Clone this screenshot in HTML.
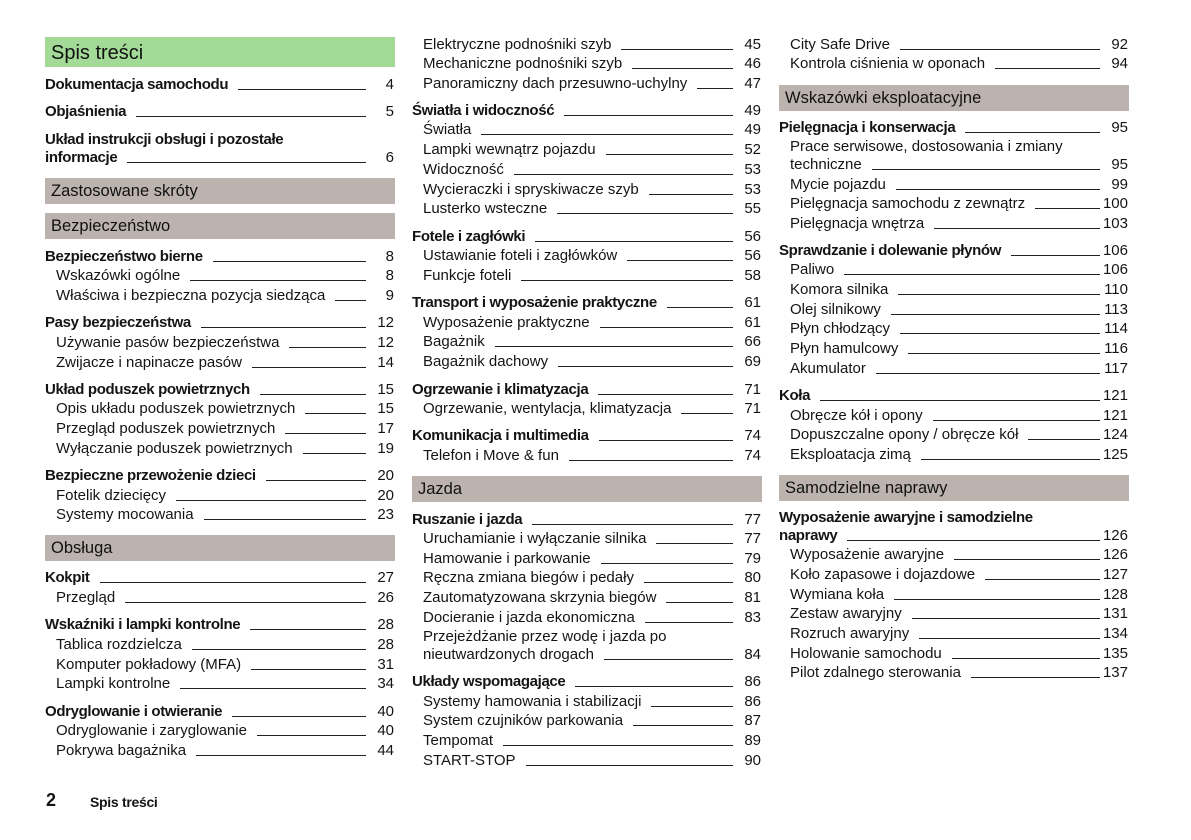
<!DOCTYPE html>
<html lang="pl">
<head>
<meta charset="utf-8">
<style>
html,body{margin:0;padding:0;background:#fff;}
body{width:1191px;height:840px;position:relative;overflow:hidden;font-family:"Liberation Sans",Arial,sans-serif;color:#141414;}
.col{position:absolute;top:0;width:350px;height:840px;}
.c1{left:45px;}
.c2{left:412px;}
.c3{left:779px;}
.r{position:absolute;left:0;right:1px;height:18px;display:flex;align-items:flex-start;line-height:18px;font-size:15px;white-space:nowrap;}
.r.s{left:11px;}
.r i{flex:1;height:13.5px;border-bottom:1px solid #222;margin-left:10px;min-width:4px;}
.r .n{width:28px;text-align:right;flex:none;font-weight:normal;letter-spacing:0;}
.b .t{font-weight:bold;letter-spacing:-0.35px;}
.w{position:absolute;left:0;height:18px;line-height:18px;font-size:15px;white-space:nowrap;}
.w.s{left:11px;}
.w.b{font-weight:bold;letter-spacing:-0.35px;}
.bar{position:absolute;left:0;width:344px;height:26px;line-height:27px;padding-left:6px;background:#bdb3ae;font-size:16.5px;color:#111;white-space:nowrap;}
.green{position:absolute;left:0;width:344px;height:30px;line-height:32px;padding-left:6px;background:#a3da97;font-size:20px;color:#111;}
.foot2{position:absolute;left:46px;top:790px;font-size:18px;font-weight:bold;line-height:20px;}
.foott{position:absolute;left:90px;top:793px;font-size:14px;font-weight:bold;letter-spacing:-0.3px;line-height:18px;}
</style>
</head>
<body>

<div class="col c1">
  <div class="green" style="top:37px">Spis treści</div>
  <div class="r b" style="top:75.5px"><span class="t">Dokumentacja samochodu</span><i></i><span class="n">4</span></div>
  <div class="r b" style="top:102.5px"><span class="t">Objaśnienia</span><i></i><span class="n">5</span></div>
  <div class="w b" style="top:130.5px">Układ instrukcji obsługi i pozostałe</div>
  <div class="r b" style="top:148.5px"><span class="t">informacje</span><i></i><span class="n">6</span></div>
  <div class="bar" style="top:178px">Zastosowane skróty</div>
  <div class="bar" style="top:213px">Bezpieczeństwo</div>

  <div class="r b" style="top:247.5px"><span class="t">Bezpieczeństwo bierne</span><i></i><span class="n">8</span></div>
  <div class="r s" style="top:266.5px"><span class="t">Wskazówki ogólne</span><i></i><span class="n">8</span></div>
  <div class="r s" style="top:286.5px"><span class="t">Właściwa i bezpieczna pozycja siedząca</span><i></i><span class="n">9</span></div>

  <div class="r b" style="top:313.5px"><span class="t">Pasy bezpieczeństwa</span><i></i><span class="n">12</span></div>
  <div class="r s" style="top:333.5px"><span class="t">Używanie pasów bezpieczeństwa</span><i></i><span class="n">12</span></div>
  <div class="r s" style="top:353.5px"><span class="t">Zwijacze i napinacze pasów</span><i></i><span class="n">14</span></div>

  <div class="r b" style="top:380.5px"><span class="t">Układ poduszek powietrznych</span><i></i><span class="n">15</span></div>
  <div class="r s" style="top:399.5px"><span class="t">Opis układu poduszek powietrznych</span><i></i><span class="n">15</span></div>
  <div class="r s" style="top:419.5px"><span class="t">Przegląd poduszek powietrznych</span><i></i><span class="n">17</span></div>
  <div class="r s" style="top:439.5px"><span class="t">Wyłączanie poduszek powietrznych</span><i></i><span class="n">19</span></div>

  <div class="r b" style="top:466.5px"><span class="t">Bezpieczne przewożenie dzieci</span><i></i><span class="n">20</span></div>
  <div class="r s" style="top:486.5px"><span class="t">Fotelik dziecięcy</span><i></i><span class="n">20</span></div>
  <div class="r s" style="top:505.5px"><span class="t">Systemy mocowania</span><i></i><span class="n">23</span></div>

  <div class="bar" style="top:535px">Obsługa</div>

  <div class="r b" style="top:568.5px"><span class="t">Kokpit</span><i></i><span class="n">27</span></div>
  <div class="r s" style="top:588.5px"><span class="t">Przegląd</span><i></i><span class="n">26</span></div>

  <div class="r b" style="top:615.5px"><span class="t">Wskaźniki i lampki kontrolne</span><i></i><span class="n">28</span></div>
  <div class="r s" style="top:635.5px"><span class="t">Tablica rozdzielcza</span><i></i><span class="n">28</span></div>
  <div class="r s" style="top:655.5px"><span class="t">Komputer pokładowy (MFA)</span><i></i><span class="n">31</span></div>
  <div class="r s" style="top:674.5px"><span class="t">Lampki kontrolne</span><i></i><span class="n">34</span></div>

  <div class="r b" style="top:702.5px"><span class="t">Odryglowanie i otwieranie</span><i></i><span class="n">40</span></div>
  <div class="r s" style="top:721.5px"><span class="t">Odryglowanie i zaryglowanie</span><i></i><span class="n">40</span></div>
  <div class="r s" style="top:741.5px"><span class="t">Pokrywa bagażnika</span><i></i><span class="n">44</span></div>
</div>

<div class="col c2">
  <div class="r s" style="top:35.5px"><span class="t">Elektryczne podnośniki szyb</span><i></i><span class="n">45</span></div>
  <div class="r s" style="top:54.5px"><span class="t">Mechaniczne podnośniki szyb</span><i></i><span class="n">46</span></div>
  <div class="r s" style="top:74.5px"><span class="t">Panoramiczny dach przesuwno-uchylny</span><i></i><span class="n">47</span></div>

  <div class="r b" style="top:101.5px"><span class="t">Światła i widoczność</span><i></i><span class="n">49</span></div>
  <div class="r s" style="top:120.5px"><span class="t">Światła</span><i></i><span class="n">49</span></div>
  <div class="r s" style="top:140.5px"><span class="t">Lampki wewnątrz pojazdu</span><i></i><span class="n">52</span></div>
  <div class="r s" style="top:160.5px"><span class="t">Widoczność</span><i></i><span class="n">53</span></div>
  <div class="r s" style="top:180.5px"><span class="t">Wycieraczki i spryskiwacze szyb</span><i></i><span class="n">53</span></div>
  <div class="r s" style="top:199.5px"><span class="t">Lusterko wsteczne</span><i></i><span class="n">55</span></div>

  <div class="r b" style="top:227.5px"><span class="t">Fotele i zagłówki</span><i></i><span class="n">56</span></div>
  <div class="r s" style="top:246.5px"><span class="t">Ustawianie foteli i zagłówków</span><i></i><span class="n">56</span></div>
  <div class="r s" style="top:266.5px"><span class="t">Funkcje foteli</span><i></i><span class="n">58</span></div>

  <div class="r b" style="top:293.5px"><span class="t">Transport i wyposażenie praktyczne</span><i></i><span class="n">61</span></div>
  <div class="r s" style="top:313.5px"><span class="t">Wyposażenie praktyczne</span><i></i><span class="n">61</span></div>
  <div class="r s" style="top:332.5px"><span class="t">Bagażnik</span><i></i><span class="n">66</span></div>
  <div class="r s" style="top:352.5px"><span class="t">Bagażnik dachowy</span><i></i><span class="n">69</span></div>

  <div class="r b" style="top:380.5px"><span class="t">Ogrzewanie i klimatyzacja</span><i></i><span class="n">71</span></div>
  <div class="r s" style="top:399.5px"><span class="t">Ogrzewanie, wentylacja, klimatyzacja</span><i></i><span class="n">71</span></div>

  <div class="r b" style="top:426.5px"><span class="t">Komunikacja i multimedia</span><i></i><span class="n">74</span></div>
  <div class="r s" style="top:446.5px"><span class="t">Telefon i Move &amp; fun</span><i></i><span class="n">74</span></div>

  <div class="bar" style="top:476px">Jazda</div>

  <div class="r b" style="top:510.5px"><span class="t">Ruszanie i jazda</span><i></i><span class="n">77</span></div>
  <div class="r s" style="top:529.5px"><span class="t">Uruchamianie i wyłączanie silnika</span><i></i><span class="n">77</span></div>
  <div class="r s" style="top:549.5px"><span class="t">Hamowanie i parkowanie</span><i></i><span class="n">79</span></div>
  <div class="r s" style="top:568.5px"><span class="t">Ręczna zmiana biegów i pedały</span><i></i><span class="n">80</span></div>
  <div class="r s" style="top:588.5px"><span class="t">Zautomatyzowana skrzynia biegów</span><i></i><span class="n">81</span></div>
  <div class="r s" style="top:608.5px"><span class="t">Docieranie i jazda ekonomiczna</span><i></i><span class="n">83</span></div>
  <div class="w s" style="top:627.5px">Przejeżdżanie przez wodę i jazda po</div>
  <div class="r s" style="top:645.5px"><span class="t">nieutwardzonych drogach</span><i></i><span class="n">84</span></div>

  <div class="r b" style="top:672.5px"><span class="t">Układy wspomagające</span><i></i><span class="n">86</span></div>
  <div class="r s" style="top:692.5px"><span class="t">Systemy hamowania i stabilizacji</span><i></i><span class="n">86</span></div>
  <div class="r s" style="top:711.5px"><span class="t">System czujników parkowania</span><i></i><span class="n">87</span></div>
  <div class="r s" style="top:731.5px"><span class="t">Tempomat</span><i></i><span class="n">89</span></div>
  <div class="r s" style="top:751.5px"><span class="t">START-STOP</span><i></i><span class="n">90</span></div>
</div>

<div class="col c3">
  <div class="r s" style="top:35.5px"><span class="t">City Safe Drive</span><i></i><span class="n">92</span></div>
  <div class="r s" style="top:54.5px"><span class="t">Kontrola ciśnienia w oponach</span><i></i><span class="n">94</span></div>

  <div class="bar" style="top:85px">Wskazówki eksploatacyjne</div>

  <div class="r b" style="top:118.5px"><span class="t">Pielęgnacja i konserwacja</span><i></i><span class="n">95</span></div>
  <div class="w s" style="top:137.5px">Prace serwisowe, dostosowania i zmiany</div>
  <div class="r s" style="top:155.5px"><span class="t">techniczne</span><i></i><span class="n">95</span></div>
  <div class="r s" style="top:175.5px"><span class="t">Mycie pojazdu</span><i></i><span class="n">99</span></div>
  <div class="r s" style="top:194.5px"><span class="t">Pielęgnacja samochodu z zewnątrz</span><i></i><span class="n">100</span></div>
  <div class="r s" style="top:214.5px"><span class="t">Pielęgnacja wnętrza</span><i></i><span class="n">103</span></div>

  <div class="r b" style="top:241.5px"><span class="t">Sprawdzanie i dolewanie płynów</span><i></i><span class="n">106</span></div>
  <div class="r s" style="top:260.5px"><span class="t">Paliwo</span><i></i><span class="n">106</span></div>
  <div class="r s" style="top:280.5px"><span class="t">Komora silnika</span><i></i><span class="n">110</span></div>
  <div class="r s" style="top:300.5px"><span class="t">Olej silnikowy</span><i></i><span class="n">113</span></div>
  <div class="r s" style="top:319.5px"><span class="t">Płyn chłodzący</span><i></i><span class="n">114</span></div>
  <div class="r s" style="top:339.5px"><span class="t">Płyn hamulcowy</span><i></i><span class="n">116</span></div>
  <div class="r s" style="top:359.5px"><span class="t">Akumulator</span><i></i><span class="n">117</span></div>

  <div class="r b" style="top:386.5px"><span class="t">Koła</span><i></i><span class="n">121</span></div>
  <div class="r s" style="top:406.5px"><span class="t">Obręcze kół i opony</span><i></i><span class="n">121</span></div>
  <div class="r s" style="top:425.5px"><span class="t">Dopuszczalne opony / obręcze kół</span><i></i><span class="n">124</span></div>
  <div class="r s" style="top:445.5px"><span class="t">Eksploatacja zimą</span><i></i><span class="n">125</span></div>

  <div class="bar" style="top:475px">Samodzielne naprawy</div>

  <div class="w b" style="top:508.5px">Wyposażenie awaryjne i samodzielne</div>
  <div class="r b" style="top:526.5px"><span class="t">naprawy</span><i></i><span class="n">126</span></div>
  <div class="r s" style="top:545.5px"><span class="t">Wyposażenie awaryjne</span><i></i><span class="n">126</span></div>
  <div class="r s" style="top:565.5px"><span class="t">Koło zapasowe i dojazdowe</span><i></i><span class="n">127</span></div>
  <div class="r s" style="top:585.5px"><span class="t">Wymiana koła</span><i></i><span class="n">128</span></div>
  <div class="r s" style="top:604.5px"><span class="t">Zestaw awaryjny</span><i></i><span class="n">131</span></div>
  <div class="r s" style="top:624.5px"><span class="t">Rozruch awaryjny</span><i></i><span class="n">134</span></div>
  <div class="r s" style="top:644.5px"><span class="t">Holowanie samochodu</span><i></i><span class="n">135</span></div>
  <div class="r s" style="top:663.5px"><span class="t">Pilot zdalnego sterowania</span><i></i><span class="n">137</span></div>
</div>

<div class="foot2">2</div>
<div class="foott">Spis treści</div>

</body>
</html>
